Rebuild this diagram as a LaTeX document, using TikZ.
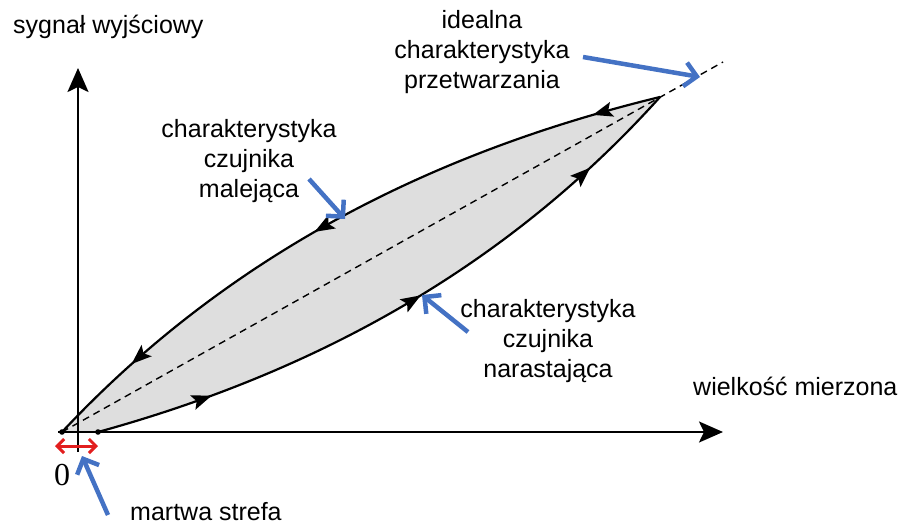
\documentclass[tikz,border=0pt]{standalone}
\usepackage{fontspec}
\setmainfont{Liberation Sans}
\newfontfamily\zerofont{Liberation Serif}
\usetikzlibrary{arrows.meta,decorations.markings}
\definecolor{callblue}{RGB}{68,114,196}
\definecolor{zonered}{RGB}{226,30,30}
\definecolor{hystfill}{RGB}{222,222,222}
\begin{document}
\begin{tikzpicture}[x=1pt,y=-1pt,
  axisline/.style={line width=2.2pt,-{Stealth[length=24pt,width=21pt,inset=5pt]}},
  curveline/.style={line width=2.2pt},
  idealline/.style={line width=1.4pt,dash pattern=on 7pt off 5pt},
  callout/.style={draw=callblue,line width=4.5pt,-{Straight Barb[length=12pt,width=24pt]}},
  zonearrow/.style={draw=zonered,line width=3pt,{Straight Barb[length=7pt,width=14pt]}-{Straight Barb[length=7pt,width=14pt]}},
  lbl/.style={font=\fontsize{25}{30}\selectfont,align=center,inner sep=0pt},
  downmarks/.style={postaction={decorate},decoration={markings,
     mark=at position 0.10 with {\arrow{Stealth[length=20pt,width=15pt,inset=4pt]}},
     mark=at position 0.535 with {\arrow{Stealth[length=20pt,width=15pt,inset=4pt]}},
     mark=at position 0.86 with {\arrow{Stealth[length=20pt,width=15pt,inset=4pt]}}}},
  upmarks/.style={postaction={decorate},decoration={markings,
     mark=at position 0.18 with {\arrow{Stealth[length=20pt,width=15pt,inset=4pt]}},
     mark=at position 0.53 with {\arrow{Stealth[length=20pt,width=15pt,inset=4pt]}},
     mark=at position 0.85 with {\arrow{Stealth[length=20pt,width=15pt,inset=4pt]}}}}
]
\useasboundingbox (0,0) rectangle (902,525);

% key points
\coordinate (A) at (62,432);
\coordinate (C) at (98,432);
\coordinate (B) at (660,97);
\coordinate (I) at (723,62);
\coordinate (yb) at (78,452);
\coordinate (yt) at (78,68);
\coordinate (xl) at (58,432);
\coordinate (xr) at (723,432);
\coordinate (zl) at (55,446);
\coordinate (zr) at (98,446);

% hysteresis area
\fill[hystfill] (A) .. controls (226,257) and (429,153) .. (B)
   .. controls (507,267) and (316,372) .. (C) -- cycle;

% ideal characteristic
\draw[idealline] (A) -- (I);

% sensor characteristics
\draw[curveline,downmarks] (B) .. controls (429,153) and (226,257) .. (A);
\draw[curveline,upmarks] (C) .. controls (316,372) and (507,267) .. (B);
\fill (A) circle (2.8pt);
\fill (C) circle (2.8pt);

% axes
\draw[axisline] (yb) -- (yt);
\draw[axisline] (xl) -- (xr);

% dead zone
\draw[zonearrow] (zl) -- (zr);

% labels (base = baseline of the last line)
\node[lbl,anchor=base west] (ylab) at (13,33) {sygnał wyjściowy};
\node[lbl,anchor=base west] (xlab) at (693,395) {wielkość mierzona};
\node[lbl,anchor=base] (ideal) at (482,88) {idealna\\charakterystyka\\przetwarzania};
\node[lbl,anchor=base] (down) at (249,197) {charakterystyka\\czujnika\\malejąca};
\node[lbl,anchor=base] (up) at (548,377) {charakterystyka\\czujnika\\narastająca};
\node[lbl,anchor=base west] (dead) at (130,520) {martwa strefa};
\node[font=\zerofont\fontsize{32}{32}\selectfont,anchor=base,inner sep=0pt] (zero) at (62,485) {0};

% callout arrows
\coordinate (ideal-t) at (583,57);
\coordinate (ideal-h) at (700,77);
\coordinate (down-t) at (309,179);
\coordinate (down-h) at (345,219);
\coordinate (up-t) at (468,332);
\coordinate (up-h) at (422,295);
\coordinate (dead-t) at (108,515);
\coordinate (dead-h) at (82,456);
\draw[callout] (ideal-t) -- (ideal-h);
\draw[callout] (down-t) -- (down-h);
\draw[callout] (up-t) -- (up-h);
\draw[callout] (dead-t) -- (dead-h);
\end{tikzpicture}
\end{document}
